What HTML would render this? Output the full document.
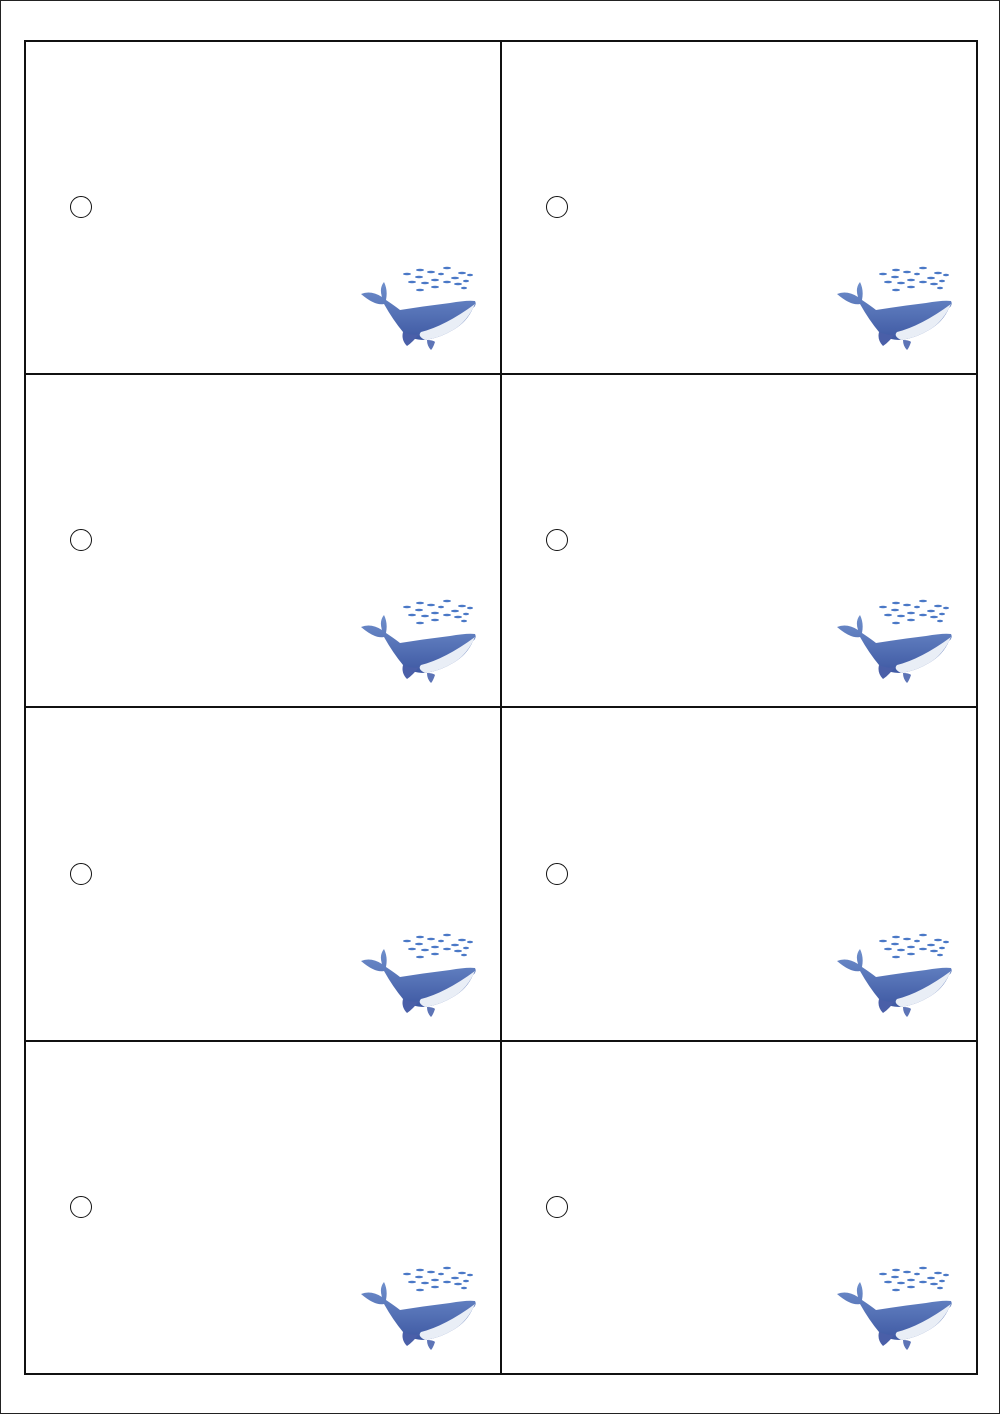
<!DOCTYPE html>
<html><head><style>
body{margin:0;width:1000px;height:1414px;background:#fff;position:relative;overflow:hidden}
.pg{position:absolute;left:0;top:0;width:998px;height:1412px;border:1px solid #222}
.l{position:absolute;background:#111}
.c{position:absolute;width:22px;height:22px;border:1.5px solid #111;border-radius:50%;box-sizing:border-box}
svg.w{position:absolute;width:130px;height:100px}
</style></head><body>
<div class="pg"></div>
<svg width="0" height="0" style="position:absolute">
<defs>
<linearGradient id="g" x1="0" y1="0" x2="0" y2="1"><stop offset="0" stop-color="#6f8fcc"/><stop offset="1" stop-color="#3f59a3"/></linearGradient>
<g id="wh">
<path d="M6,34 Q16,30 27,37 Q24,28 29,22 Q33,30 31,40 Q40,46 45,50 Q70,46 95,43 Q112,40 120,41 Q122,45 118,48 Q112,62 98,70 Q85,78 70,80 Q55,80 48,72 Q38,60 29,44 Q20,46 6,34 Z" fill="url(#g)"/>
<path d="M120,44 Q112,62 98,70 Q85,78 70,80 Q62,76 66,72 Q90,66 120,44 Z" fill="#e9eef6"/>
<path d="M48,72 Q58,76 64,74 Q58,82 52,86 Q46,80 48,72 Z" fill="#4a5fa8"/>
<path d="M72,80 Q78,80 80,82 Q78,88 76,90 Q72,86 72,80 Z" fill="#5d74b6"/>
<g fill="#4a78c6">
<ellipse cx="52" cy="14" rx="4" ry="1.3"/><ellipse cx="65" cy="10" rx="4" ry="1.3"/><ellipse cx="76" cy="12" rx="4" ry="1.3"/><ellipse cx="92" cy="8" rx="4" ry="1.3"/><ellipse cx="107" cy="13" rx="4" ry="1.3"/><ellipse cx="115" cy="15" rx="3" ry="1.2"/>
<ellipse cx="64" cy="17" rx="4" ry="1.3"/><ellipse cx="86" cy="14" rx="3" ry="1.2"/><ellipse cx="100" cy="18" rx="4" ry="1.3"/>
<ellipse cx="57" cy="22" rx="4" ry="1.3"/><ellipse cx="70" cy="23" rx="4" ry="1.3"/><ellipse cx="80" cy="20" rx="4" ry="1.3"/><ellipse cx="92" cy="22" rx="4" ry="1.3"/><ellipse cx="103" cy="24" rx="4" ry="1.3"/><ellipse cx="111" cy="21" rx="3" ry="1.2"/>
<ellipse cx="65" cy="30" rx="4" ry="1.3"/><ellipse cx="80" cy="27" rx="4" ry="1.3"/><ellipse cx="109" cy="28" rx="3" ry="1.2"/>
</g>
</g></defs></svg>
<div class="l" style="left:24px;top:40px;width:954px;height:2px"></div>
<div class="l" style="left:24px;top:373px;width:954px;height:2px"></div>
<div class="l" style="left:24px;top:706px;width:954px;height:2px"></div>
<div class="l" style="left:24px;top:1040px;width:954px;height:2px"></div>
<div class="l" style="left:24px;top:1373px;width:954px;height:2px"></div>
<div class="l" style="left:24px;top:40px;width:2px;height:1335px"></div>
<div class="l" style="left:500px;top:40px;width:2px;height:1335px"></div>
<div class="l" style="left:976px;top:40px;width:2px;height:1335px"></div>

<div class="c" style="left:70px;top:196px"></div><div class="c" style="left:546px;top:196px"></div>
<div class="c" style="left:70px;top:529px"></div><div class="c" style="left:546px;top:529px"></div>
<div class="c" style="left:70px;top:863px"></div><div class="c" style="left:546px;top:863px"></div>
<div class="c" style="left:70px;top:1196px"></div><div class="c" style="left:546px;top:1196px"></div>

<svg class="w" style="left:355px;top:260px" viewBox="0 0 130 100"><use href="#wh"/></svg>
<svg class="w" style="left:831px;top:260px" viewBox="0 0 130 100"><use href="#wh"/></svg>
<svg class="w" style="left:355px;top:593px" viewBox="0 0 130 100"><use href="#wh"/></svg>
<svg class="w" style="left:831px;top:593px" viewBox="0 0 130 100"><use href="#wh"/></svg>
<svg class="w" style="left:355px;top:927px" viewBox="0 0 130 100"><use href="#wh"/></svg>
<svg class="w" style="left:831px;top:927px" viewBox="0 0 130 100"><use href="#wh"/></svg>
<svg class="w" style="left:355px;top:1260px" viewBox="0 0 130 100"><use href="#wh"/></svg>
<svg class="w" style="left:831px;top:1260px" viewBox="0 0 130 100"><use href="#wh"/></svg>
</body></html>
